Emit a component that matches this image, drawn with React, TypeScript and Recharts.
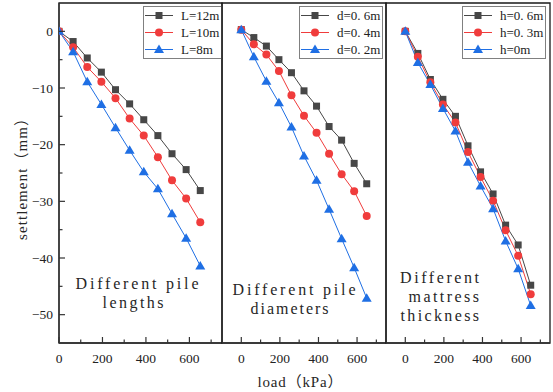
import React from 'react'
import { LineChart, Line, XAxis, YAxis, Legend, ReferenceArea } from 'recharts'

// load steps (kPa), shared by all three panels
const loads = [0, 65, 130, 195, 260, 325, 390, 455, 520, 585, 650]

// panel 1: pile length
const lenL12 = [0, -1.8, -4.7, -7.2, -10.3, -12.8, -15.6, -18.4, -21.6, -24.4, -28.1]
const lenL10 = [0, -2.8, -6.3, -8.9, -11.8, -15.4, -18.4, -22.2, -26.3, -29.5, -33.7]
const lenL8 = [0, -3.6, -8.9, -12.9, -17.0, -21.0, -24.8, -27.8, -32.2, -36.5, -41.4]

// panel 2: pile diameter
const diaD06 = [0.3, -1.1, -2.6, -5.0, -7.3, -10.5, -13.2, -16.8, -19.2, -23.3, -26.9]
const diaD04 = [0.3, -2.3, -4.1, -7.0, -11.3, -14.9, -17.9, -21.6, -25.2, -28.2, -32.6]
const diaD02 = [0.3, -4.5, -8.8, -12.6, -16.9, -22.0, -26.3, -31.4, -36.6, -41.7, -47.1]

// panel 3: mattress thickness
const matH06 = [0, -3.9, -8.5, -12.0, -15.0, -20.2, -24.8, -28.7, -34.2, -37.7, -44.8]
const matH03 = [0, -4.5, -9.0, -12.9, -16.1, -21.3, -25.7, -29.9, -35.1, -39.6, -46.4]
const matH0 = [0, -5.5, -9.4, -13.6, -17.6, -23.1, -27.3, -31.3, -37.0, -41.9, -48.4]

const xTicks = [0, 100, 200, 300, 400, 500, 600, 700]
const yTicks = [-50, -45, -40, -35, -30, -25, -20, -15, -10, -5, 0]
const Y_DOMAIN: [number, number] = [-55, 5]

const GRAY = '#474747'
const RED = '#f03c3c'
const BLUE = '#1f6fe4'
const AXIS = '#333'
const SERIF = '"Liberation Serif", "Noto Sans CJK SC", serif'

type Shape = 'square' | 'circle' | 'triangle'
interface Series { key: string; name: string; color: string; shape: Shape; values: number[] }

function Marker({ cx, cy, shape, color }: { cx: number; cy: number; shape: Shape; color: string }) {
  if (cx == null || cy == null) return null
  if (shape === 'square') return <rect x={cx - 3.5} y={cy - 3.5} width={7} height={7} fill={color} />
  if (shape === 'circle') return <circle cx={cx} cy={cy} r={4} fill={color} />
  return <polygon points={`${cx},${cy - 5} ${cx - 5},${cy + 3.5} ${cx + 5},${cy + 3.5}`} fill={color} />
}

function XTick(props: any) {
  const { x, y, payload } = props
  const v = payload.value
  const major = v % 200 === 0
  return (
    <g>
      <line x1={x} x2={x} y1={y} y2={y - (major ? 6 : 3.5)} stroke={AXIS} strokeWidth={1.2} />
      {major && (
        <text x={x} y={y + 20} textAnchor="middle" fontFamily={SERIF} fontSize={13.5} fill="#222">{v}</text>
      )}
    </g>
  )
}

function YTick(props: any) {
  const { x, y, payload } = props
  const v = payload.value
  const major = v % 10 === 0
  return (
    <g>
      <line x1={x} x2={x + (major ? 6 : 3.5)} y1={y} y2={y} stroke={AXIS} strokeWidth={1.2} />
      {major && (
        <text x={x - 6} y={y + 4.5} textAnchor="end" fontFamily={SERIF} fontSize={13.5} fill="#222">
          {v === 0 ? '0' : '\u2212' + Math.abs(v)}
        </text>
      )}
    </g>
  )
}

function LegendBox({ series }: { series: Series[] }) {
  return (
    <div style={{ border: '1px solid #808080', background: '#fff', boxSizing: 'border-box', padding: '0 2px 0 1px' }}>
      {series.map(s => (
        <div key={s.key} style={{ display: 'flex', alignItems: 'center', height: 17 }}>
          <svg width={28} height={17} style={{ flex: 'none' }}>
            <line x1={0} x2={28} y1={8.5} y2={8.5} stroke={s.color} strokeWidth={1} />
            <Marker cx={14} cy={8.5} shape={s.shape} color={s.color} />
          </svg>
          <span style={{ marginLeft: 8, fontFamily: SERIF, fontSize: 13, color: '#222', whiteSpace: 'pre' }}>{s.name}</span>
        </div>
      ))}
    </div>
  )
}

interface PanelProps {
  left: number
  width: number
  showY: boolean
  xDomain: [number, number]
  series: Series[]
  legendLeft: number
  legendWidth: number
}

function Panel({ left, width, showY, xDomain, series, legendLeft, legendWidth }: PanelProps) {
  const rows = loads.map((load, i) => {
    const r: Record<string, number> = { load }
    series.forEach(s => { r[s.key] = s.values[i] })
    return r
  })
  return (
    <div style={{ position: 'absolute', left, top: 0 }}>
      <LineChart width={width} height={392} data={rows} margin={{ top: 3, right: 1, bottom: 0, left: showY ? 0 : 1 }}>
        <XAxis
          dataKey="load" type="number" domain={xDomain} ticks={xTicks} interval={0}
          tickSize={0} tickMargin={0} tickLine={false} height={49} allowDataOverflow
          axisLine={{ stroke: AXIS, strokeWidth: 1.3 }} tick={XTick}
        />
        <YAxis
          type="number" domain={Y_DOMAIN} ticks={yTicks} interval={0} hide={!showY}
          width={59} tickSize={0} tickMargin={0} tickLine={false} allowDataOverflow
          axisLine={{ stroke: AXIS, strokeWidth: 1.3 }} tick={YTick}
        />
        <ReferenceArea
          x1={xDomain[0]} x2={xDomain[1]} y1={Y_DOMAIN[0]} y2={Y_DOMAIN[1]}
          fill="none" stroke="#1a1a1a" strokeWidth={1.3} ifOverflow="visible"
        />
        {series.map(s => (
          <Line
            key={s.key} dataKey={s.key} name={s.name} stroke={s.color} strokeWidth={1}
            isAnimationActive={false}
            dot={(p: any) => <Marker key={`${s.key}-${p.index}`} cx={p.cx} cy={p.cy} shape={s.shape} color={s.color} />}
          />
        ))}
        <Legend
          layout="horizontal" verticalAlign="middle" align="center"
          wrapperStyle={{ left: legendLeft, top: 6, width: legendWidth }}
          content={() => <LegendBox series={series} />}
        />
      </LineChart>
    </div>
  )
}

const panel1: Series[] = [
  { key: 'l12', name: 'L=12m', color: GRAY, shape: 'square', values: lenL12 },
  { key: 'l10', name: 'L=10m', color: RED, shape: 'circle', values: lenL10 },
  { key: 'l8', name: 'L=8m', color: BLUE, shape: 'triangle', values: lenL8 },
]
const panel2: Series[] = [
  { key: 'd06', name: 'd=0. 6m', color: GRAY, shape: 'square', values: diaD06 },
  { key: 'd04', name: 'd=0. 4m', color: RED, shape: 'circle', values: diaD04 },
  { key: 'd02', name: 'd=0. 2m', color: BLUE, shape: 'triangle', values: diaD02 },
]
const panel3: Series[] = [
  { key: 'h06', name: 'h=0. 6m', color: GRAY, shape: 'square', values: matH06 },
  { key: 'h03', name: 'h=0. 3m', color: RED, shape: 'circle', values: matH03 },
  { key: 'h0', name: 'h=0m', color: BLUE, shape: 'triangle', values: matH0 },
]

// free text, stretched to the widths of the original's monospaced face
function Label({ x, y, w, children, anchor = 'start', size = 16, transform }: any) {
  return (
    <text
      x={x} y={y} transform={transform} textAnchor={anchor} textLength={w} lengthAdjust="spacing"
      fontFamily={SERIF} fontSize={size} fill="#262626"
    >
      {children}
    </text>
  )
}

export default function App() {
  return (
    <div style={{ position: 'absolute', left: 0, top: 0, width: 553, height: 392, background: '#fff', overflow: 'hidden' }}>
      <Panel left={0} width={223} showY xDomain={[0, 750]} series={panel1} legendLeft={143} legendWidth={79} />
      <Panel left={221} width={166} showY={false} xDomain={[-100, 750]} series={panel2} legendLeft={78} legendWidth={84} />
      <Panel left={385} width={166} showY={false} xDomain={[-100, 750]} series={panel3} legendLeft={77} legendWidth={84} />
      <svg width={553} height={392} style={{ position: 'absolute', left: 0, top: 0, pointerEvents: 'none' }}>
        <Label x={0} y={0} w={129} anchor="middle" size={15} transform="translate(26.5,175.5) rotate(-90)">settlement（mm）</Label>
        <Label x={300} y={387} w={85} anchor="middle" size={15}>load（kPa）</Label>
        <Label x={75.5} y={289} w={123}>Different pile</Label>
        <Label x={102.5} y={307.5} w={61}>lengths</Label>
        <Label x={232.5} y={294.5} w={123}>Different pile</Label>
        <Label x={250.5} y={314} w={78}>diameters</Label>
        <Label x={400} y={282.5} w={79}>Different</Label>
        <Label x={408.5} y={301.5} w={70.5}>mattress</Label>
        <Label x={400.5} y={320.5} w={78.5}>thickness</Label>
      </svg>
    </div>
  )
}
